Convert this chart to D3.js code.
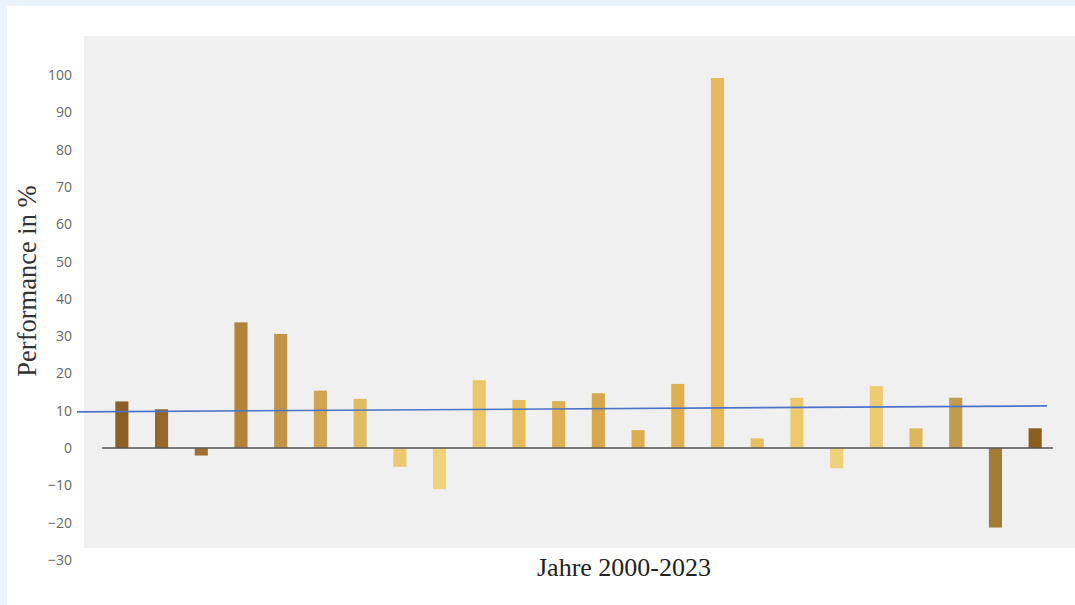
<!DOCTYPE html>
<html>
<head>
<meta charset="utf-8">
<script src="https://cdn.jsdelivr.net/npm/d3@7"></script>
<style>
  body { margin: 0; background: #ebf4fc; }
  svg { display: block; }
</style>
</head>
<body>
<svg></svg>
<script>
// data
var years = d3.range(2000, 2024);
var performance = [12.5, 10.4, -2.0, 33.7, 30.6, 15.4, 13.2, -5.0, -11.0, 18.2,
                   12.9, 12.6, 14.7, 4.8, 17.2, 99.2, 2.6, 13.5, -5.4, 16.6,
                   5.3, 13.5, -21.3, 5.3];
var barColors = ["#8c5f22", "#96672a", "#a2712f", "#b28439", "#c09347", "#cfa553",
                 "#e0bb62", "#ecc96e", "#f0d27c", "#ecc56a", "#e6bd5e", "#ddb055",
                 "#d6a64c", "#dcad50", "#dfb052", "#e6b95c", "#e5bf60", "#ebc96c",
                 "#efd17a", "#eccb72", "#ddb65e", "#c39b4c", "#a57c36", "#8a5d20"];
var yTicks = [-30, -20, -10, 0, 10, 20, 30, 40, 50, 60, 70, 80, 90, 100];
var trend = [9.7, 11.3]; // Trendlinie Anfang/Ende

var svgWidth = 1075, svgHeight = 605;
var svg = d3.select('svg')
  .attr('width', svgWidth)
  .attr('height', svgHeight);

// white card + grey plot area
svg.append('rect').attr('x', 7).attr('y', 6)
  .attr('width', svgWidth - 7).attr('height', svgHeight - 6)
  .attr('fill', '#ffffff');
svg.append('rect').attr('x', 84).attr('y', 36)
  .attr('width', svgWidth - 84).attr('height', 512)
  .attr('fill', '#f0f0f0');

var x = d3.scaleBand()
  .domain(years)
  .range([102, 1055])
  .paddingInner(0.67)
  .paddingOuter(0.335);

var y = d3.scaleLinear()
  .domain([-30, 100])
  .range([560, 75]);

// y axis (labels only)
var yAxis = d3.axisLeft(y).tickValues(yTicks).tickSize(0).tickPadding(0);
var gy = svg.append('g')
  .attr('transform', 'translate(72,0)')
  .call(yAxis);
gy.select('.domain').remove();
gy.selectAll('text')
  .attr('font-family', '"Open Sans", sans-serif')
  .attr('font-size', '14px')
  .attr('fill', '#666');

// bars
svg.selectAll('rect.bar')
  .data(performance)
  .enter()
  .append('rect')
  .attr('class', 'bar')
  .attr('x', function (d, i) { return x(years[i]); })
  .attr('width', x.bandwidth())
  .attr('y', function (d) { return y(Math.max(0, d)); })
  .attr('height', function (d) { return Math.abs(y(d) - y(0)); })
  .attr('fill', function (d, i) { return barColors[i]; });

// zero line
svg.append('line')
  .attr('x1', 102).attr('x2', 1053)
  .attr('y1', y(0)).attr('y2', y(0))
  .attr('stroke', '#555')
  .attr('stroke-width', 1.5);

// trend line
svg.append('line')
  .attr('x1', 77).attr('x2', 1047)
  .attr('y1', y(trend[0])).attr('y2', y(trend[1]))
  .attr('stroke', '#4a74c9')
  .attr('stroke-width', 1.6);

// axis titles
svg.append('text')
  .attr('transform', 'translate(36,281) rotate(-90)')
  .attr('text-anchor', 'middle')
  .attr('font-family', '"Liberation Serif", "Times New Roman", serif')
  .attr('font-size', '26.5px')
  .attr('fill', '#333')
  .text('Performance in %');

svg.append('text')
  .attr('x', 624).attr('y', 576)
  .attr('text-anchor', 'middle')
  .attr('font-family', '"Liberation Serif", "Times New Roman", serif')
  .attr('font-size', '26px')
  .attr('fill', '#222')
  .text('Jahre 2000-2023');
</script>
</body>
</html>
